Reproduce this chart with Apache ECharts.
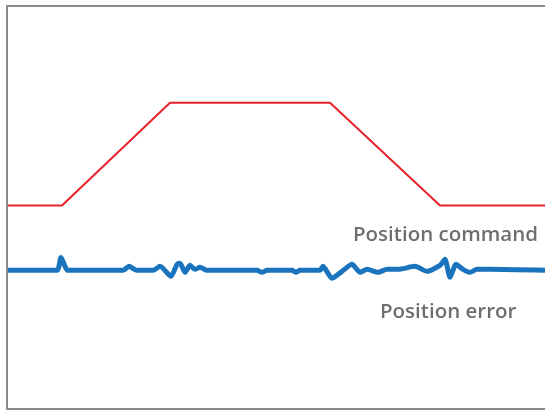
<!DOCTYPE html>
<html>
<head>
<meta charset="utf-8">
<script src="https://cdn.jsdelivr.net/npm/echarts@6/dist/echarts.min.js"></script>
<style>
html, body { margin: 0; padding: 0; background: #fff; }
#main { width: 545px; height: 411px; }
</style>
</head>
<body>
<div id="main"></div>
<script>
// position command (trapezoid move profile)
var commandX = [8, 62, 170, 330, 440, 545];
var commandY = [204, 204, 307, 307, 204, 204];

// position error (small ripples around zero)
var errorX = [8, 57, 61, 68, 123, 129, 137, 153, 160, 171, 177, 180, 185, 190, 195, 200, 207, 257, 262, 267, 292, 296, 300, 320, 323, 332, 342, 352, 360, 367, 378, 387, 398, 415, 427, 440, 445, 450, 456, 463, 470, 477, 490, 545];
var errorY = [139, 139, 152, 139, 139, 143, 139, 139, 143, 133, 145, 146, 137, 144, 140, 142, 139, 139, 137, 139, 139, 137, 139, 139, 143, 131, 138, 145, 137, 140, 137, 140, 140, 143, 138, 144, 150, 132, 145, 140, 137, 140, 140, 139];

var labels = ['Position command', 'Position error'];

function pairs(xs, ys) {
    var out = [];
    for (var i = 0; i < xs.length; i++) {
        out.push([xs[i], ys[i]]);
    }
    return out;
}

var myChart = echarts.init(document.getElementById('main'));
var option = {
    animation: false,
    grid: { left: 7, right: 0, top: 6, bottom: 2 },
    xAxis: [
        {
            type: 'value', min: 7, max: 545, position: 'bottom',
            axisLine: { show: true, lineStyle: { color: '#8a8a8a', width: 2 } },
            axisTick: { show: false }, axisLabel: { show: false }, splitLine: { show: false }
        },
        {
            type: 'value', min: 7, max: 545, position: 'top',
            axisLine: { show: true, lineStyle: { color: '#8a8a8a', width: 2 } },
            axisTick: { show: false }, axisLabel: { show: false }, splitLine: { show: false }
        }
    ],
    yAxis: {
        type: 'value', min: 0, max: 404,
        axisLine: { show: true, lineStyle: { color: '#8a8a8a', width: 2 } },
        axisTick: { show: false }, axisLabel: { show: false }, splitLine: { show: false }
    },
    series: [
        {
            name: labels[0],
            type: 'line',
            data: pairs(commandX, commandY),
            showSymbol: false,
            lineStyle: { color: '#e8222b', width: 2 }
        },
        {
            name: labels[1],
            type: 'line',
            data: pairs(errorX, errorY),
            showSymbol: false,
            smooth: 0.2,
            lineStyle: { color: '#1a74bd', width: 5 }
        }
    ],
    graphic: [
        {
            type: 'text', left: 353, top: 225,
            style: { text: labels[0], fill: '#6e6e6e', font: '600 20.5px "Open Sans"' }
        },
        {
            type: 'text', left: 380, top: 302,
            style: { text: labels[1], fill: '#6e6e6e', font: '600 20.5px "Open Sans"' }
        }
    ]
};
myChart.setOption(option);
</script>
</body>
</html>
